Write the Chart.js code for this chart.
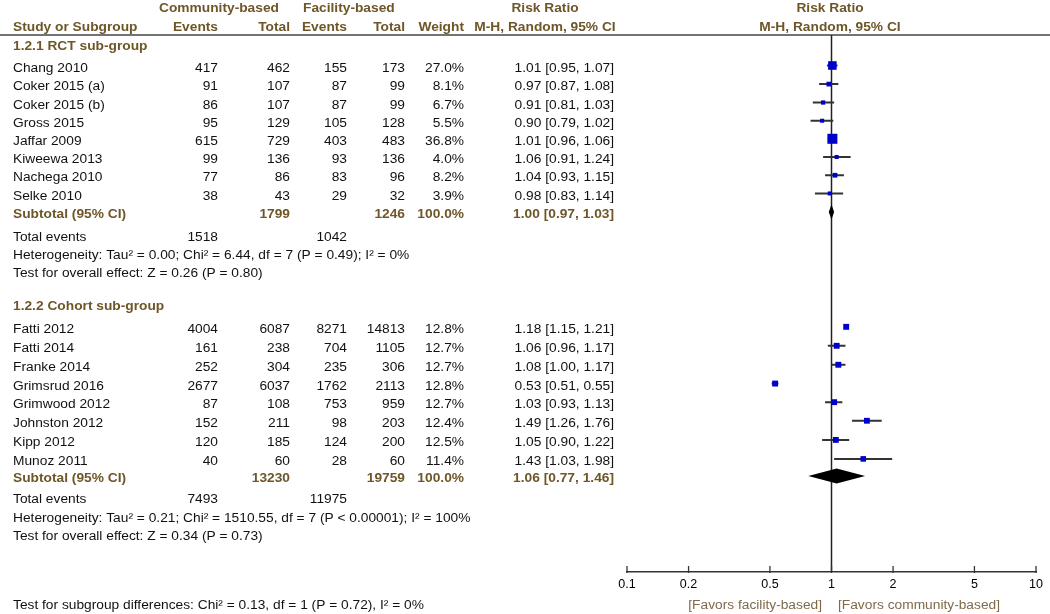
<!DOCTYPE html>
<html>
<head>
<meta charset="utf-8">
<script src="https://cdn.jsdelivr.net/npm/chart.js@4.4.1/dist/chart.umd.min.js"></script>
<style>
  html, body { margin: 0; padding: 0; background: #ffffff; }
  #wrap { width: 1050px; height: 614px; position: relative; }
</style>
</head>
<body>
<div id="wrap"><canvas id="c" width="1050" height="614"></canvas></div>
<script>
// ---------------- DATA ----------------
const studies1 = ['Chang 2010','Coker 2015 (a)','Coker 2015 (b)','Gross 2015','Jaffar 2009','Kiweewa 2013','Nachega 2010','Selke 2010'];
const commEvents1 = [417, 91, 86, 95, 615, 99, 77, 38];
const commTotal1  = [462, 107, 107, 129, 729, 136, 86, 43];
const facEvents1  = [155, 87, 87, 105, 403, 93, 83, 29];
const facTotal1   = [173, 99, 99, 128, 483, 136, 96, 32];
const weight1 = [27.0, 8.1, 6.7, 5.5, 36.8, 4.0, 8.2, 3.9];
const rr1 = [1.01, 0.97, 0.91, 0.90, 1.01, 1.06, 1.04, 0.98];
const lo1 = [0.95, 0.87, 0.81, 0.79, 0.96, 0.91, 0.93, 0.83];
const hi1 = [1.07, 1.08, 1.03, 1.02, 1.06, 1.24, 1.15, 1.14];

const studies2 = ['Fatti 2012','Fatti 2014','Franke 2014','Grimsrud 2016','Grimwood 2012','Johnston 2012','Kipp 2012','Munoz 2011'];
const commEvents2 = [4004, 161, 252, 2677, 87, 152, 120, 40];
const commTotal2  = [6087, 238, 304, 6037, 108, 211, 185, 60];
const facEvents2  = [8271, 704, 235, 1762, 753, 98, 124, 28];
const facTotal2   = [14813, 1105, 306, 2113, 959, 203, 200, 60];
const weight2 = [12.8, 12.7, 12.7, 12.8, 12.7, 12.4, 12.5, 11.4];
const rr2 = [1.18, 1.06, 1.08, 0.53, 1.03, 1.49, 1.05, 1.43];
const lo2 = [1.15, 0.96, 1.00, 0.51, 0.93, 1.26, 0.90, 1.03];
const hi2 = [1.21, 1.17, 1.17, 0.55, 1.13, 1.76, 1.22, 1.98];

const groupTitles = ['1.2.1 RCT sub-group', '1.2.2 Cohort sub-group'];
const subCommTotal = [1799, 13230];
const subFacTotal  = [1246, 19759];
const subEst = [1.00, 1.06];
const subLo  = [0.97, 0.77];
const subHi  = [1.03, 1.46];
const totCommEvents = [1518, 7493];
const totFacEvents  = [1042, 11975];
const heterogeneity = [
  'Heterogeneity: Tau\u00b2 = 0.00; Chi\u00b2 = 6.44, df = 7 (P = 0.49); I\u00b2 = 0%',
  'Heterogeneity: Tau\u00b2 = 0.21; Chi\u00b2 = 1510.55, df = 7 (P < 0.00001); I\u00b2 = 100%'
];
const overallEffect = [
  'Test for overall effect: Z = 0.26 (P = 0.80)',
  'Test for overall effect: Z = 0.34 (P = 0.73)'
];
const subgroupTest = 'Test for subgroup differences: Chi\u00b2 = 0.13, df = 1 (P = 0.72), I\u00b2 = 0%';
const xTicks = [0.1, 0.2, 0.5, 1, 2, 5, 10];
const favorsLeft = '[Favors facility-based]';
const favorsRight = '[Favors community-based]';

// ---------------- LAYOUT (row positions, columns, styles) ----------------
const rowsStudy1 = [0, 1, 1.99, 2.97, 3.94, 4.92, 5.9, 6.88];
const rowsStudy2 = [14.05, 15.07, 16.09, 17.1, 18.1, 19.1, 20.13, 21.15];
const rowHeadA = -3.2, rowHeadB = -2.2;
const rowGroup = [-1.16, 12.82];
const rowSub   = [7.88, 22.07];
const rowTot   = [9.11, 23.17];
const rowHet   = [10.08, 24.2];
const rowTest  = [11.05, 25.19];
const rowBottom = 28.9;
const TEXT_DY = 2.8;

const COL = { name: 13, ce: 218, ct: 290, fe: 347, ft: 405, w: 464, rr: 614, rrHead: 545, plotHead: 830 };
const FONT = '"Liberation Sans", Arial, sans-serif';
const FONT_PX = 12.5;
const SX = 1.1;
const BOLD_COLOR = '#6e5628';
const TEXT_COLOR = '#111111';
const FAV_COLOR = '#7f6a4a';
const MARK_COLOR = '#0000cc';
const LINE_COLOR = '#333333';

const fmtRR = (e, l, h) => `${e.toFixed(2)} [${l.toFixed(2)}, ${h.toFixed(2)}]`;

// build datasets from the arrays
const allRR = rr1.concat(rr2), allLo = lo1.concat(lo2), allHi = hi1.concat(hi2);
const allW = weight1.concat(weight2), allRows = rowsStudy1.concat(rowsStudy2);
const markerData = allRR.map((v, i) => ({ x: v, y: allRows[i] }));
const markerRadius = allW.map(w => Math.max(4, 1.65 * Math.sqrt(w)) / Math.SQRT2);
const whiskerData = [];
allLo.forEach((l, i) => {
  whiskerData.push({ x: l, y: allRows[i] }, { x: allHi[i], y: allRows[i] }, { x: null, y: null });
});

function txt(ctx, s, x, y, align, bold, color, sx) {
  ctx.save();
  ctx.font = (bold ? 'bold ' : '') + FONT_PX + 'px ' + FONT;
  ctx.fillStyle = color;
  ctx.textBaseline = 'middle';
  ctx.textAlign = align;
  ctx.translate(x, y);
  ctx.scale(sx === undefined ? SX : sx, 1);
  ctx.fillText(s, 0, 0);
  ctx.restore();
}

const forestPlugin = {
  id: 'forest',
  beforeDatasetsDraw(chart) {
    const { ctx, scales: { x }, chartArea } = chart;
    ctx.save();
    ctx.strokeStyle = '#444';
    ctx.lineWidth = 1.6;
    ctx.beginPath();
    ctx.moveTo(0, chartArea.top);
    ctx.lineTo(1050, chartArea.top);
    ctx.stroke();
    const x1 = x.getPixelForValue(1);
    ctx.strokeStyle = '#222';
    ctx.lineWidth = 1.5;
    ctx.beginPath();
    ctx.moveTo(x1, chartArea.top);
    ctx.lineTo(x1, chartArea.bottom);
    ctx.stroke();
    ctx.lineWidth = 1.3;
    ctx.strokeStyle = '#333';
    x.ticks.forEach(t => {
      const px = x.getPixelForValue(t.value);
      ctx.beginPath();
      ctx.moveTo(px, chartArea.bottom - 6);
      ctx.lineTo(px, chartArea.bottom + 1);
      ctx.stroke();
    });
    ctx.restore();
  },
  afterDatasetsDraw(chart) {
    const { ctx, scales: { x, y } } = chart;
    ctx.save();
    ctx.fillStyle = '#000';
    for (let g = 0; g < 2; g++) {
      const cy = y.getPixelForValue(rowSub[g]);
      const h = 7.5;
      ctx.beginPath();
      ctx.moveTo(x.getPixelForValue(subLo[g]), cy);
      ctx.lineTo(x.getPixelForValue(subEst[g]), cy - h);
      ctx.lineTo(x.getPixelForValue(subHi[g]), cy);
      ctx.lineTo(x.getPixelForValue(subEst[g]), cy + h);
      ctx.closePath();
      ctx.fill();
    }
    ctx.restore();
  },
  afterDraw(chart) {
    const { ctx, scales: { y } } = chart;
    const P = r => y.getPixelForValue(r) + TEXT_DY;
    txt(ctx, 'Community-based', 159, P(rowHeadA), 'left', true, BOLD_COLOR);
    txt(ctx, 'Facility-based', 303, P(rowHeadA), 'left', true, BOLD_COLOR);
    txt(ctx, 'Risk Ratio', COL.rrHead, P(rowHeadA), 'center', true, BOLD_COLOR);
    txt(ctx, 'Risk Ratio', COL.plotHead, P(rowHeadA), 'center', true, BOLD_COLOR);
    const hb = P(rowHeadB);
    txt(ctx, 'Study or Subgroup', COL.name, hb, 'left', true, BOLD_COLOR);
    txt(ctx, 'Events', COL.ce, hb, 'right', true, BOLD_COLOR);
    txt(ctx, 'Total', COL.ct, hb, 'right', true, BOLD_COLOR);
    txt(ctx, 'Events', COL.fe, hb, 'right', true, BOLD_COLOR);
    txt(ctx, 'Total', COL.ft, hb, 'right', true, BOLD_COLOR);
    txt(ctx, 'Weight', COL.w, hb, 'right', true, BOLD_COLOR);
    txt(ctx, 'M-H, Random, 95% CI', COL.rrHead, hb, 'center', true, BOLD_COLOR);
    txt(ctx, 'M-H, Random, 95% CI', COL.plotHead, hb, 'center', true, BOLD_COLOR);

    const groups = [
      [studies1, commEvents1, commTotal1, facEvents1, facTotal1, weight1, rr1, lo1, hi1, rowsStudy1],
      [studies2, commEvents2, commTotal2, facEvents2, facTotal2, weight2, rr2, lo2, hi2, rowsStudy2]
    ];
    groups.forEach((G, g) => {
      const [nm, ce, ct, fe, ft, w, e, l, h, rows] = G;
      txt(ctx, groupTitles[g], COL.name, P(rowGroup[g]), 'left', true, BOLD_COLOR);
      nm.forEach((n, i) => {
        const py = P(rows[i]);
        txt(ctx, n, COL.name, py, 'left', false, TEXT_COLOR);
        txt(ctx, String(ce[i]), COL.ce, py, 'right', false, TEXT_COLOR);
        txt(ctx, String(ct[i]), COL.ct, py, 'right', false, TEXT_COLOR);
        txt(ctx, String(fe[i]), COL.fe, py, 'right', false, TEXT_COLOR);
        txt(ctx, String(ft[i]), COL.ft, py, 'right', false, TEXT_COLOR);
        txt(ctx, w[i].toFixed(1) + '%', COL.w, py, 'right', false, TEXT_COLOR);
        txt(ctx, fmtRR(e[i], l[i], h[i]), COL.rr, py, 'right', false, TEXT_COLOR);
      });
      const ps = P(rowSub[g]);
      txt(ctx, 'Subtotal (95% CI)', COL.name, ps, 'left', true, BOLD_COLOR);
      txt(ctx, String(subCommTotal[g]), COL.ct, ps, 'right', true, BOLD_COLOR);
      txt(ctx, String(subFacTotal[g]), COL.ft, ps, 'right', true, BOLD_COLOR);
      txt(ctx, '100.0%', COL.w, ps, 'right', true, BOLD_COLOR);
      txt(ctx, fmtRR(subEst[g], subLo[g], subHi[g]), COL.rr, ps, 'right', true, BOLD_COLOR);
      const pt = P(rowTot[g]);
      txt(ctx, 'Total events', COL.name, pt, 'left', false, TEXT_COLOR);
      txt(ctx, String(totCommEvents[g]), COL.ce, pt, 'right', false, TEXT_COLOR);
      txt(ctx, String(totFacEvents[g]), COL.fe, pt, 'right', false, TEXT_COLOR);
      txt(ctx, heterogeneity[g], COL.name, P(rowHet[g]), 'left', false, TEXT_COLOR);
      txt(ctx, overallEffect[g], COL.name, P(rowTest[g]), 'left', false, TEXT_COLOR);
    });
    const pb = P(rowBottom);
    txt(ctx, subgroupTest, COL.name, pb, 'left', false, TEXT_COLOR);
    txt(ctx, favorsLeft, 822, pb, 'right', false, FAV_COLOR);
    txt(ctx, favorsRight, 838, pb, 'left', false, FAV_COLOR);
  }
};

new Chart(document.getElementById('c'), {
  type: 'scatter',
  data: {
    datasets: [
      {
        type: 'line',
        data: whiskerData,
        showLine: true,
        spanGaps: false,
        borderColor: LINE_COLOR,
        borderWidth: 2,
        pointRadius: 0,
        fill: false,
        order: 2
      },
      {
        data: markerData,
        pointStyle: 'rect',
        pointRadius: markerRadius,
        pointBackgroundColor: MARK_COLOR,
        pointBorderColor: MARK_COLOR,
        pointBorderWidth: 0,
        order: 1
      }
    ]
  },
  options: {
    responsive: false,
    devicePixelRatio: 1,
    animation: false,
    events: [],
    layout: { padding: { left: 627, right: 14, top: 35, bottom: 0 } },
    plugins: { legend: { display: false }, tooltip: { enabled: false } },
    scales: {
      x: {
        type: 'logarithmic',
        min: 0.1,
        max: 10,
        afterBuildTicks: s => { s.ticks = xTicks.map(v => ({ value: v })); },
        afterFit: s => { s.height = 42; },
        grid: { display: true, drawOnChartArea: false, drawTicks: false },
        border: { display: true, color: '#333', width: 1.5 },
        ticks: {
          autoSkip: false,
          maxRotation: 0,
          padding: 5,
          color: '#000',
          font: { family: FONT, size: 12.5 },
          callback: v => String(v)
        }
      },
      y: {
        type: 'linear',
        display: false,
        reverse: true,
        min: (35 - 65.5) / 18.6,
        max: (572 - 65.5) / 18.6
      }
    }
  },
  plugins: [forestPlugin]
});
</script>
</body>
</html>
